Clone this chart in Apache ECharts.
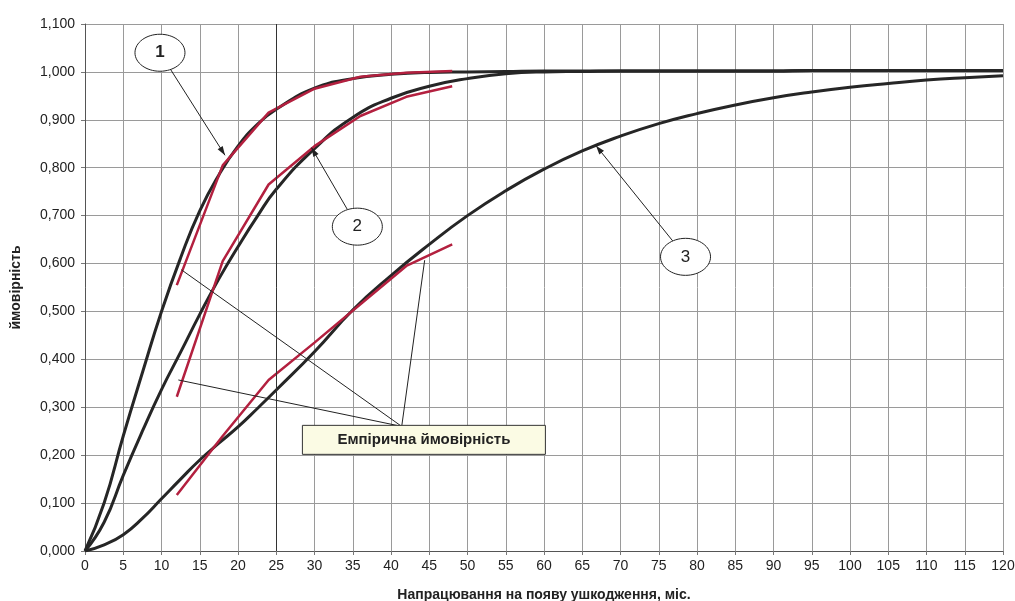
<!DOCTYPE html>
<html>
<head>
<meta charset="utf-8">
<script src="https://cdn.jsdelivr.net/npm/echarts@6/dist/echarts.min.js"></script>
<style>
html,body{margin:0;padding:0;background:#fff;}
#c{width:1015px;height:601px;}
</style>
</head>
<body>
<div id="c"></div>
<script>
// ---- data ----
const xs = [0, 2.5, 5, 7.5, 10, 12.5, 15, 17.5, 20, 22.5, 25, 30, 35, 40, 45, 50, 55, 60, 65, 70, 75, 80, 85, 90, 95, 100, 105, 110, 115, 120];
const curve1 = [0, 0.1, 0.24, 0.372, 0.5, 0.612, 0.71, 0.785, 0.845, 0.89, 0.922, 0.966, 0.986, 0.995, 0.999, 1.0, 1.001, 1.002, 1.002, 1.002, 1.002, 1.002, 1.002, 1.002, 1.003, 1.003, 1.003, 1.003, 1.003, 1.003];
const curve2 = [0, 0.06, 0.158, 0.25, 0.337, 0.415, 0.494, 0.568, 0.635, 0.698, 0.755, 0.84, 0.905, 0.945, 0.97, 0.986, 0.996, 1.0, 1.001, 1.002, 1.002, 1.002, 1.002, 1.002, 1.003, 1.003, 1.003, 1.003, 1.003, 1.003];
const curve3 = [0, 0.013, 0.034, 0.068, 0.109, 0.15, 0.19, 0.225, 0.259, 0.297, 0.336, 0.416, 0.503, 0.575, 0.64, 0.7, 0.752, 0.797, 0.835, 0.866, 0.892, 0.913, 0.931, 0.946, 0.958, 0.968, 0.976, 0.983, 0.988, 0.992];
const empX = [12, 18, 24, 30, 36, 42, 48];
const emp1 = [0.555, 0.805, 0.915, 0.965, 0.99, 0.998, 1.002];
const emp2 = [0.322, 0.605, 0.765, 0.845, 0.908, 0.948, 0.97];
const emp3 = [0.117, 0.24, 0.357, 0.435, 0.515, 0.595, 0.64];
const xTicks = {min: 0, max: 120, step: 5};
const yTicks = {min: 0, max: 1.1, step: 0.1};
const xName = 'Напрацювання на появу ушкодження, міс.';
const yName = 'ймовірність';
const boxText = 'Емпірична ймовірність';
const curveLabels = ['1', '2', '3'];
// annotation anchors in data coordinates
const ellipseCenters = [[9.8, 1.04], [35.6, 0.677], [78.5, 0.614]];
const arrowTargets = [[18.3, 0.826], [29.6, 0.842], [66.8, 0.846]];
const boxCenter = [44.3, 0.232];
const boxJoin = [41.4, 0.26];
const boxTargets = [[12.6, 0.587], [12.2, 0.357], [44.4, 0.607]];

const pair = (x, y) => x.map((v, i) => [v, y[i]]);
const fmt = v => v.toFixed(3).replace('.', ',');

const chart = echarts.init(document.getElementById('c'), null, {renderer: 'canvas'});
const font = '"Liberation Sans", Arial, sans-serif';
const black = '#262626';
const red = '#b3203f';

const blackSeries = (d) => ({
  type: 'line', data: d, smooth: 0.5, showSymbol: false, symbol: 'none',
  lineStyle: {color: black, width: 3}, silent: true, z: 3
});
const redSeries = (d) => ({
  type: 'line', data: d, smooth: false, showSymbol: false, symbol: 'none',
  lineStyle: {color: red, width: 2.5}, silent: true, z: 4
});

const option = {
  animation: false,
  backgroundColor: '#fff',
  grid: {left: 85, right: 12, top: 24, bottom: 50, containLabel: false, outerBoundsMode: 'none'},
  xAxis: {
    type: 'value', min: xTicks.min, max: xTicks.max, interval: xTicks.step,
    name: xName, nameLocation: 'middle', nameGap: 37,
    nameTextStyle: {fontFamily: font, fontWeight: 'bold', fontSize: 14, color: '#222'},
    axisLine: {show: true, lineStyle: {color: '#555', width: 1}},
    axisTick: {show: true, length: 4, lineStyle: {color: '#777'}},
    axisLabel: {fontFamily: font, fontSize: 14, color: '#222', margin: 8},
    splitLine: {show: true, lineStyle: {color: '#9a9a9a', width: 1}}
  },
  yAxis: {
    type: 'value', min: yTicks.min, max: yTicks.max, interval: yTicks.step,
    name: yName, nameLocation: 'middle', nameGap: 62, nameRotate: 90,
    nameTextStyle: {fontFamily: font, fontWeight: 'bold', fontSize: 14, color: '#222'},
    axisLine: {show: true, lineStyle: {color: '#555', width: 1}},
    axisTick: {show: true, length: 4, lineStyle: {color: '#777'}},
    axisLabel: {fontFamily: font, fontSize: 14, color: '#222', margin: 10, formatter: fmt},
    splitLine: {show: true, lineStyle: {color: '#9a9a9a', width: 1}}
  },
  series: [
    Object.assign(blackSeries(pair(xs, curve1)), {
      markLine: {silent: true, symbol: 'none', label: {show: false},
        lineStyle: {color: '#333', width: 1, type: 'solid'}, data: [{xAxis: 25}]}
    }),
    blackSeries(pair(xs, curve2)),
    blackSeries(pair(xs, curve3)),
    redSeries(pair(empX, emp1)),
    redSeries(pair(empX, emp2)),
    redSeries(pair(empX, emp3))
  ]
};
chart.setOption(option);

// ---- annotations ----
const px = p => chart.convertToPixel({gridIndex: 0}, p);
const g = [];
const rx = 25, ry = 18.5;
function arrowHead(from, to, len, half) {
  const dx = to[0] - from[0], dy = to[1] - from[1];
  const L = Math.hypot(dx, dy); const ux = dx / L, uy = dy / L;
  const bx = to[0] - ux * len, by = to[1] - uy * len;
  return [to, [bx - uy * half, by + ux * half], [bx + uy * half, by - ux * half]];
}
ellipseCenters.forEach((c, i) => {
  const pc = px(c); const pt = px(arrowTargets[i]);
  const dx = pt[0] - pc[0], dy = pt[1] - pc[1];
  const t = 1 / Math.sqrt((dx * dx) / (rx * rx) + (dy * dy) / (ry * ry));
  const ps = [pc[0] + dx * t, pc[1] + dy * t];
  g.push({type: 'line', shape: {x1: ps[0], y1: ps[1], x2: pt[0], y2: pt[1]}, style: {stroke: '#222', lineWidth: 1}, z: 10});
  g.push({type: 'polygon', shape: {points: arrowHead(ps, pt, 9, 3)}, style: {fill: '#222'}, z: 10});
  g.push({type: 'ellipse', shape: {cx: pc[0], cy: pc[1], rx: rx, ry: ry}, style: {fill: '#fff', stroke: '#222', lineWidth: 1}, z: 11});
  g.push({type: 'text', x: pc[0], y: pc[1], style: {text: curveLabels[i], fontFamily: font, fontSize: 17,
    fontWeight: i === 0 ? 'bold' : 'normal', fill: '#222', align: 'center', verticalAlign: 'middle'}, z: 12});
});
const pj = px(boxJoin);
boxTargets.forEach(t => {
  const p = px(t);
  g.push({type: 'line', shape: {x1: pj[0], y1: pj[1], x2: p[0], y2: p[1]}, style: {stroke: '#222', lineWidth: 1}, z: 10});
});
const pb = px(boxCenter);
const bw = 243, bh = 29;
g.push({type: 'rect', shape: {x: pb[0] - bw / 2, y: pb[1] - bh / 2, width: bw, height: bh},
  style: {fill: '#fbfbe4', stroke: '#333', lineWidth: 1}, z: 11});
g.push({type: 'text', x: pb[0], y: pb[1], style: {text: boxText, fontFamily: font, fontSize: 15, fontWeight: 'bold',
  fill: '#222', align: 'center', verticalAlign: 'middle'}, z: 12});
chart.setOption({graphic: g});
</script>
</body>
</html>
